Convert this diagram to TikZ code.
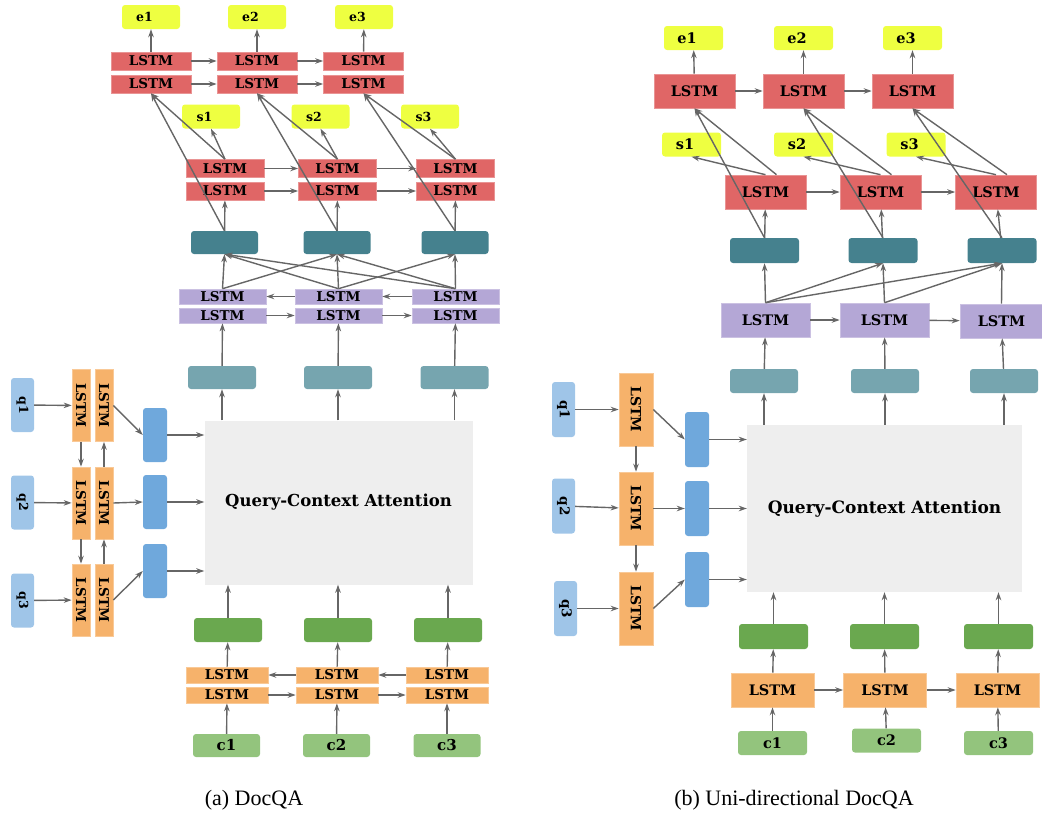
\documentclass[tikz,border=0pt]{standalone}
\usepackage{fontspec}
\usepackage{graphicx}
\usepackage{xcolor}
\usepackage{tikz}
\usetikzlibrary{arrows.meta}
\setmainfont{Liberation Serif}
\newfontfamily\slabfont{DejaVu Serif}
\definecolor{outyellow}{HTML}{EEFF41}
\definecolor{lstmred}{HTML}{E06666}
\definecolor{hidteal}{HTML}{45818E}
\definecolor{inteal}{HTML}{76A5AF}
\definecolor{lstmpurple}{HTML}{B4A7D6}
\definecolor{lstmorange}{HTML}{F6B26B}
\definecolor{encgreen}{HTML}{6AA84F}
\definecolor{ctxgreen}{HTML}{93C47D}
\definecolor{qrylblue}{HTML}{9FC5E8}
\definecolor{qencblue}{HTML}{6FA8DC}
\definecolor{attgray}{HTML}{EEEEEE}
\definecolor{arrowgray}{HTML}{666666}

\begin{document}
\begin{tikzpicture}[x=1pt,y=-1pt,
  arr/.style={-{Stealth[length=8pt,width=5.5pt]},draw=arrowgray,line width=1.4pt},
  fs/.style={font=\slabfont\bfseries\fontsize{#1}{#1}\selectfont},
  sz/.style 2 args={minimum width=#1,minimum height=#2},
  yelbox/.style={inner sep=0pt,fill=outyellow,rounded corners=3pt,execute at end node={\hspace{13pt}}},
  redbox/.style={inner sep=0pt,fill=lstmred,draw=lstmred!70!white,line width=0.6pt},
  hidbox/.style={inner sep=0pt,fill=hidteal,rounded corners=3pt},
  purbox/.style={inner sep=0pt,fill=lstmpurple,draw=lstmpurple!70!white,line width=0.6pt},
  inbox/.style={inner sep=0pt,fill=inteal,rounded corners=3pt},
  orgbox/.style={inner sep=0pt,fill=lstmorange,draw=lstmorange!70!white,line width=0.6pt},
  qbox/.style={inner sep=0pt,fill=qrylblue,rounded corners=3pt},
  qencbox/.style={inner sep=0pt,fill=qencblue,rounded corners=3pt},
  encbox/.style={inner sep=0pt,fill=encgreen,rounded corners=3pt},
  ctxbox/.style={inner sep=0pt,fill=ctxgreen,rounded corners=3pt},
  attbox/.style={inner sep=0pt,fill=attgray}
]
\useasboundingbox (0,0) rectangle (1042,819);

% (a) DocQA
\node[yelbox,sz={58}{24},fs=12.5] (ae1) at (151,17) {e1};
\node[yelbox,sz={58}{24},fs=12.5] (ae2) at (257,17) {e2};
\node[yelbox,sz={58}{24},fs=12.5] (ae3) at (364,17) {e3};
\node[redbox,sz={80}{18},fs=13.5] (aeu1) at (151,61) {LSTM};
\node[redbox,sz={80}{18},fs=13.5] (aeu2) at (257,61) {LSTM};
\node[redbox,sz={80}{18},fs=13.5] (aeu3) at (363.5,61) {LSTM};
\node[redbox,sz={80}{18},fs=13.5] (ael1) at (151,84) {LSTM};
\node[redbox,sz={80}{18},fs=13.5] (ael2) at (257,84) {LSTM};
\node[redbox,sz={80}{18},fs=13.5] (ael3) at (363.5,84) {LSTM};
\node[yelbox,sz={58}{24},fs=12.5] (as1) at (211,116.5) {s1};
\node[yelbox,sz={58}{24},fs=12.5] (as2) at (320.5,116.5) {s2};
\node[yelbox,sz={58}{24},fs=12.5] (as3) at (430,116.5) {s3};
\node[redbox,sz={78}{18},fs=13.5] (asu1) at (225,168.5) {LSTM};
\node[redbox,sz={78}{18},fs=13.5] (asu2) at (337.5,168.5) {LSTM};
\node[redbox,sz={78}{18},fs=13.5] (asu3) at (455.5,168.5) {LSTM};
\node[redbox,sz={78}{18},fs=13.5] (asl1) at (225,191) {LSTM};
\node[redbox,sz={78}{18},fs=13.5] (asl2) at (337.5,191) {LSTM};
\node[redbox,sz={78}{18},fs=13.5] (asl3) at (455.5,191) {LSTM};
\node[hidbox,sz={67}{23}] (ah1) at (224.5,242.5) {};
\node[hidbox,sz={67}{23}] (ah2) at (337,242.5) {};
\node[hidbox,sz={67}{23}] (ah3) at (455,242.5) {};
\node[purbox,sz={87}{15},fs=13.5] (amu1) at (222.5,296.5) {LSTM};
\node[purbox,sz={87}{15},fs=13.5] (amu2) at (338.5,296.5) {LSTM};
\node[purbox,sz={87}{15},fs=13.5] (amu3) at (455.5,296.5) {LSTM};
\node[purbox,sz={87}{15},fs=13.5] (aml1) at (222.5,315.5) {LSTM};
\node[purbox,sz={87}{15},fs=13.5] (aml2) at (338.5,315.5) {LSTM};
\node[purbox,sz={87}{15},fs=13.5] (aml3) at (455.5,315.5) {LSTM};
\node[inbox,sz={68}{23}] (ap1) at (222,377.5) {};
\node[inbox,sz={68}{23}] (ap2) at (338,377.5) {};
\node[inbox,sz={68}{23}] (ap3) at (454.5,377.5) {};
\node[attbox,sz={268}{164},fs=16.5] (aatt) at (338.5,502.5) {Query-Context Attention};
\node[qbox,sz={23}{54},fs=12.5] (aq1) at (22.5,405) {\rotatebox{-90}{q1}};
\node[qbox,sz={23}{54},fs=12.5] (aq2) at (22.5,502.5) {\rotatebox{-90}{q2}};
\node[qbox,sz={23}{54},fs=12.5] (aq3) at (22.5,600.5) {\rotatebox{-90}{q3}};
\node[orgbox,sz={18}{72},fs=13.5] (aqf1) at (81,405.5) {\rotatebox{-90}{LSTM}};
\node[orgbox,sz={18}{72},fs=13.5] (aqf2) at (81,503) {\rotatebox{-90}{LSTM}};
\node[orgbox,sz={18}{72},fs=13.5] (aqf3) at (81,600) {\rotatebox{-90}{LSTM}};
\node[orgbox,sz={18}{72},fs=13.5] (aqb1) at (104,405.5) {\rotatebox{-90}{LSTM}};
\node[orgbox,sz={18}{72},fs=13.5] (aqb2) at (104,503) {\rotatebox{-90}{LSTM}};
\node[orgbox,sz={18}{72},fs=13.5] (aqb3) at (104,600) {\rotatebox{-90}{LSTM}};
\node[qencbox,sz={24}{54}] (aqe1) at (155,435) {};
\node[qencbox,sz={24}{54}] (aqe2) at (155,502) {};
\node[qencbox,sz={24}{54}] (aqe3) at (155,571) {};
\node[encbox,sz={68}{24}] (ag1) at (228,630) {};
\node[encbox,sz={68}{24}] (ag2) at (338,630) {};
\node[encbox,sz={68}{24}] (ag3) at (448,630) {};
\node[orgbox,sz={82}{16},fs=13.5] (acu1) at (227,675) {LSTM};
\node[orgbox,sz={82}{16},fs=13.5] (acu2) at (337,675) {LSTM};
\node[orgbox,sz={82}{16},fs=13.5] (acu3) at (447,675) {LSTM};
\node[orgbox,sz={82}{16},fs=13.5] (acl1) at (227,695) {LSTM};
\node[orgbox,sz={82}{16},fs=13.5] (acl2) at (337,695) {LSTM};
\node[orgbox,sz={82}{16},fs=13.5] (acl3) at (447,695) {LSTM};
\node[ctxbox,sz={67}{23},fs=15] (ac1) at (226.5,745.5) {c1};
\node[ctxbox,sz={67}{23},fs=15] (ac2) at (336.5,745.5) {c2};
\node[ctxbox,sz={67}{23},fs=15] (ac3) at (447,745.5) {c3};

\draw[arr] (aeu1) -- (ae1);
\draw[arr] (aeu2) -- (ae2);
\draw[arr] (aeu3) -- (ae3);
\draw[arr] (aeu1) -- (aeu2);
\draw[arr] (aeu2) -- (aeu3);
\draw[arr] (ael1) -- (ael2);
\draw[arr] (ael2) -- (ael3);
\draw[arr] (asu1.north) -- (as1.south);
\draw[arr] (asu2.north) -- (as2.south);
\draw[arr] (asu3.north) -- (as3.south);
\draw[arr] (asu1.north) -- (ael1.south);
\draw[arr] (asu2.north) -- (ael2.south);
\draw[arr] (asu3.north) -- (ael3.south);
\draw[arr] (ah1.north) -- (ael1.south);
\draw[arr] (ah2.north) -- (ael2.south);
\draw[arr] (ah3.north) -- (ael3.south);
\draw[arr] (asu1) -- (asu2);
\draw[arr] (asu2) -- (asu3);
\draw[arr] (asl1) -- (asl2);
\draw[arr] (asl2) -- (asl3);
\draw[arr] (ah1) -- (asl1);
\draw[arr] (ah2) -- (asl2);
\draw[arr] (ah3) -- (asl3);
\draw[arr] (amu1.north) -- (ah1.south);
\draw[arr] (amu1.north) -- (ah2.south);
\draw[arr] (amu2.north) -- (ah1.south);
\draw[arr] (amu2.north) -- (ah2.south);
\draw[arr] (amu2.north) -- (ah3.south);
\draw[arr] (amu3.north) -- (ah1.south);
\draw[arr] (amu3.north) -- (ah2.south);
\draw[arr] (amu3.north) -- (ah3.south);
\draw[arr] (amu2) -- (amu1);
\draw[arr] (amu3) -- (amu2);
\draw[arr] (aml1) -- (aml2);
\draw[arr] (aml2) -- (aml3);
\draw[arr] (ap1) -- (aml1);
\draw[arr] (ap2) -- (aml2);
\draw[arr] (ap3) -- (aml3);
\draw[arr] (ap1 |- aatt.north) -- (ap1);
\draw[arr] (ap2 |- aatt.north) -- (ap2);
\draw[arr] (ap3 |- aatt.north) -- (ap3);
\draw[arr] (aq1) -- (aqf1);
\draw[arr] (aq2) -- (aqf2);
\draw[arr] (aq3) -- (aqf3);
\draw[arr] (aqf1) -- (aqf2);
\draw[arr] (aqf2) -- (aqf3);
\draw[arr] (aqb3) -- (aqb2);
\draw[arr] (aqb2) -- (aqb1);
\draw[arr] (aqb1.east) -- (aqe1.west);
\draw[arr] (aqb2.east) -- (aqe2.west);
\draw[arr] (aqb3.east) -- (aqe3.west);
\draw[arr] (aqe1.east) -- (aqe1.east -| aatt.west);
\draw[arr] (aqe2.east) -- (aqe2.east -| aatt.west);
\draw[arr] (aqe3.east) -- (aqe3.east -| aatt.west);
\draw[arr] (ag1) -- (ag1 |- aatt.south);
\draw[arr] (ag2) -- (ag2 |- aatt.south);
\draw[arr] (ag3) -- (ag3 |- aatt.south);
\draw[arr] (acu1) -- (ag1);
\draw[arr] (acu2) -- (ag2);
\draw[arr] (acu3) -- (ag3);
\draw[arr] (acu2) -- (acu1);
\draw[arr] (acu3) -- (acu2);
\draw[arr] (acl1) -- (acl2);
\draw[arr] (acl2) -- (acl3);
\draw[arr] (ac1) -- (acl1);
\draw[arr] (ac2) -- (acl2);
\draw[arr] (ac3) -- (acl3);

% (b) Uni-directional DocQA
\node[yelbox,sz={59}{24},fs=14.5] (be1) at (693.5,38) {e1};
\node[yelbox,sz={59}{24},fs=14.5] (be2) at (803.5,38) {e2};
\node[yelbox,sz={59}{24},fs=14.5] (be3) at (912.5,38) {e3};
\node[redbox,sz={81}{34},fs=14.5] (bre1) at (694.5,91) {LSTM};
\node[redbox,sz={81}{34},fs=14.5] (bre2) at (803.5,91) {LSTM};
\node[redbox,sz={81}{34},fs=14.5] (bre3) at (912.5,91) {LSTM};
\node[yelbox,sz={59}{24},fs=14.5] (bs1) at (691.5,144.5) {s1};
\node[yelbox,sz={59}{24},fs=14.5] (bs2) at (803.5,144.5) {s2};
\node[yelbox,sz={59}{24},fs=14.5] (bs3) at (916,144.5) {s3};
\node[redbox,sz={81}{34},fs=14.5] (brs1) at (765.5,192) {LSTM};
\node[redbox,sz={81}{34},fs=14.5] (brs2) at (880.5,192) {LSTM};
\node[redbox,sz={81}{34},fs=14.5] (brs3) at (996,192) {LSTM};
\node[hidbox,sz={69}{25}] (bh1) at (764.5,250.5) {};
\node[hidbox,sz={69}{25}] (bh2) at (883,250.5) {};
\node[hidbox,sz={69}{25}] (bh3) at (1002,250.5) {};
\node[purbox,sz={89}{34},fs=14.5] (bm1) at (765.5,320) {LSTM};
\node[purbox,sz={89}{34},fs=14.5] (bm2) at (884.5,320) {LSTM};
\node[purbox,sz={83}{34},fs=14.5] (bm3) at (1001.5,321) {LSTM};
\node[inbox,sz={68}{24}] (bp1) at (764,381) {};
\node[inbox,sz={68}{24}] (bp2) at (885,381) {};
\node[inbox,sz={68}{24}] (bp3) at (1004,381) {};
\node[attbox,sz={275}{167},fs=17] (batt) at (884.5,508.5) {Query-Context Attention};
\node[qbox,sz={23}{55},fs=13.5] (bq1) at (563.5,409.5) {\rotatebox{-90}{q1}};
\node[qbox,sz={23}{55},fs=13.5] (bq2) at (563.5,506) {\rotatebox{-90}{q2}};
\node[qbox,sz={23}{55},fs=13.5] (bq3) at (565.5,608.5) {\rotatebox{-90}{q3}};
\node[orgbox,sz={34}{73},fs=14] (bl1) at (636,409.5) {\rotatebox{-90}{LSTM}};
\node[orgbox,sz={34}{73},fs=14] (bl2) at (636,508.5) {\rotatebox{-90}{LSTM}};
\node[orgbox,sz={34}{73},fs=14] (bl3) at (636,608.5) {\rotatebox{-90}{LSTM}};
\node[qencbox,sz={24}{55}] (bqe1) at (697,439.5) {};
\node[qencbox,sz={24}{55}] (bqe2) at (697,508.5) {};
\node[qencbox,sz={24}{55}] (bqe3) at (697,579.5) {};
\node[encbox,sz={69}{25}] (bg1) at (773.5,636.5) {};
\node[encbox,sz={69}{25}] (bg2) at (884.5,636.5) {};
\node[encbox,sz={69}{25}] (bg3) at (998.5,636.5) {};
\node[orgbox,sz={83}{34},fs=14.5] (bo1) at (772.5,690) {LSTM};
\node[orgbox,sz={83}{34},fs=14.5] (bo2) at (885,690) {LSTM};
\node[orgbox,sz={83}{34},fs=14.5] (bo3) at (997.5,690) {LSTM};
\node[ctxbox,sz={69}{24},fs=14.5] (bc1) at (772.5,743) {c1};
\node[ctxbox,sz={69}{24},fs=14.5] (bc2) at (886.5,740.5) {c2};
\node[ctxbox,sz={69}{24},fs=14.5] (bc3) at (998.5,743) {c3};

\draw[arr] (bre1) -- (be1);
\draw[arr] (bre2) -- (be2);
\draw[arr] (bre3) -- (be3);
\draw[arr] (bre1) -- (bre2);
\draw[arr] (bre2) -- (bre3);
\draw[arr] (brs1.north) -- (bs1.south);
\draw[arr] (brs2.north) -- (bs2.south);
\draw[arr] (brs3.north) -- (bs3.south);
\draw[arr] ([xshift=11pt]brs1.north) -- (bre1.south);
\draw[arr] ([xshift=11pt]brs2.north) -- (bre2.south);
\draw[arr] ([xshift=11pt]brs3.north) -- (bre3.south);
\draw[arr] (bh1.north) -- (bre1.south);
\draw[arr] (bh2.north) -- (bre2.south);
\draw[arr] (bh3.north) -- (bre3.south);
\draw[arr] (brs1) -- (brs2);
\draw[arr] (brs2) -- (brs3);
\draw[arr] (bh1) -- (brs1);
\draw[arr] (bh2) -- (brs2);
\draw[arr] (bh3) -- (brs3);
\draw[arr] (bm1.north) -- (bh1.south);
\draw[arr] (bm1.north) -- (bh2.south);
\draw[arr] (bm1.north) -- (bh3.south);
\draw[arr] (bm2.north) -- (bh2.south);
\draw[arr] (bm2.north) -- (bh3.south);
\draw[arr] (bm3.north) -- (bh3.south);
\draw[arr] (bm1) -- (bm2);
\draw[arr] (bm2) -- (bm3);
\draw[arr] (bp1) -- (bm1);
\draw[arr] (bp2) -- (bm2);
\draw[arr] (bp3) -- (bm3);
\draw[arr] (bp1 |- batt.north) -- (bp1);
\draw[arr] (bp2 |- batt.north) -- (bp2);
\draw[arr] (bp3 |- batt.north) -- (bp3);
\draw[arr] (bq1) -- (bl1);
\draw[arr] (bq2) -- (bl2);
\draw[arr] (bq3) -- (bl3);
\draw[arr] (bl1) -- (bl2);
\draw[arr] (bl2) -- (bl3);
\draw[arr] (bl1.east) -- (bqe1.west);
\draw[arr] (bl2.east) -- (bqe2.west);
\draw[arr] (bl3.east) -- (bqe3.west);
\draw[arr] (bqe1.east) -- (bqe1.east -| batt.west);
\draw[arr] (bqe2.east) -- (bqe2.east -| batt.west);
\draw[arr] (bqe3.east) -- (bqe3.east -| batt.west);
\draw[arr] (bg1) -- (bg1 |- batt.south);
\draw[arr] (bg2) -- (bg2 |- batt.south);
\draw[arr] (bg3) -- (bg3 |- batt.south);
\draw[arr] (bo1) -- (bg1);
\draw[arr] (bo2) -- (bg2);
\draw[arr] (bo3) -- (bg3);
\draw[arr] (bo1) -- (bo2);
\draw[arr] (bo2) -- (bo3);
\draw[arr] (bc1) -- (bo1);
\draw[arr] (bc2) -- (bo2);
\draw[arr] (bc3) -- (bo3);

\node[font=\fontsize{22}{22}\selectfont] (capa) at (254,800) {(a) DocQA};
\node[font=\fontsize{22}{22}\selectfont] (capb) at (794,800) {(b) Uni-directional DocQA};
\end{tikzpicture}
\end{document}
